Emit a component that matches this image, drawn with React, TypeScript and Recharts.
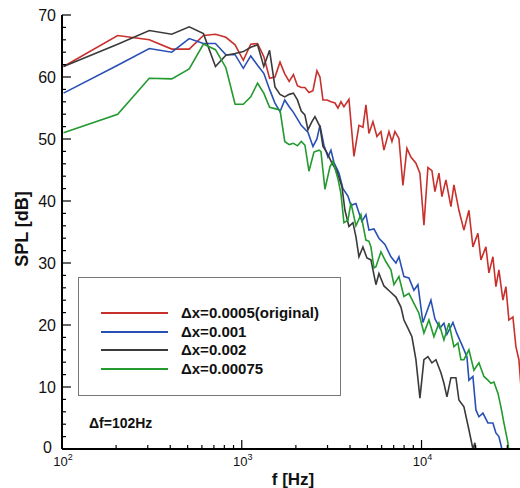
import { LineChart, Line, XAxis, YAxis, Label } from "recharts";

// frequency [Hz], SPL [dB]
const RED_PTS: [number, number][] = [
  [102, 61.7], [204, 66.7], [306, 66.0], [408, 64.5], [510, 64.5], [612, 66.7], [714, 66.9], [816, 66.4],
  [918, 65.2], [1020, 62.7], [1122, 65.3], [1224, 65.4], [1326, 63.3], [1428, 59.8], [1530, 60.0], [1632, 62.4],
  [1734, 60.5], [1836, 59.3], [1938, 60.4], [2040, 58.6], [2142, 58.3], [2244, 58.3], [2365, 57.5], [2489, 57.8],
  [2619, 61.0], [2722, 60.0], [2829, 56.3], [2978, 56.3], [3134, 56.0], [3299, 55.8], [3428, 55.0], [3562, 56.0],
  [3701, 55.2], [3947, 56.4], [4208, 47.2], [4486, 52.2], [4721, 51.9], [4906, 55.5], [5099, 50.9], [5367, 52.8],
  [5649, 50.4], [5945, 51.2], [6178, 48.2], [6587, 51.2], [6845, 49.6], [7113, 51.2], [7487, 50.1], [7880, 42.5],
  [8294, 48.5], [8730, 47.1], [9307, 46.1], [9797, 44.5], [10312, 36.1], [10853, 45.4], [11424, 44.9], [11872, 41.5],
  [12496, 44.5], [12985, 40.7], [13668, 43.4], [14571, 39.1], [15142, 42.6], [16143, 38.5], [17211, 35.3], [18349, 38.5],
  [19313, 32.6], [20591, 34.8], [21397, 30.5], [22812, 32.6], [23705, 28.4], [24951, 31.0], [25928, 26.2], [26943, 28.9],
  [28359, 24.0], [29469, 26.2], [30625, 20.8], [32234, 21.3], [33496, 16.5], [34808, 14.4], [36171, 8.0],
];

const BLUE_PTS: [number, number][] = [
  [102, 57.4], [204, 61.9], [306, 64.6], [408, 64.0], [510, 66.2], [612, 65.4], [714, 65.4], [816, 63.6],
  [918, 63.6], [1020, 61.4], [1122, 63.4], [1224, 61.9], [1326, 60.6], [1428, 58.0], [1530, 55.8], [1632, 54.4],
  [1734, 56.3], [1836, 55.2], [1938, 54.3], [2142, 52.2], [2334, 51.1], [2489, 48.8], [2619, 50.0], [2722, 52.2],
  [2865, 49.0], [3016, 47.1], [3134, 48.2], [3257, 46.2], [3472, 44.5], [3654, 42.0], [3896, 40.8], [4049, 39.3],
  [4317, 39.6], [4486, 38.1], [4661, 36.7], [4906, 37.8], [5099, 35.3], [5436, 35.5], [5795, 34.0], [6257, 33.0],
  [6758, 31.0], [7205, 30.0], [7487, 31.0], [7982, 27.8], [8509, 27.6], [9072, 25.6], [9549, 26.5], [10180, 20.4],
  [11279, 24.0], [11872, 21.0], [12657, 19.5], [13322, 20.3], [13844, 18.5], [14949, 20.4], [15735, 18.6], [16775, 16.8],
  [17884, 14.9], [18349, 11.1], [19313, 11.7], [20070, 6.3], [20856, 5.2], [21952, 5.8], [23404, 4.2], [24951, 4.2],
  [25928, 2.6], [26943, 2.0], [27998, 0.0], [28359, -2.0],
];

const BLACK_PTS: [number, number][] = [
  [102, 61.7], [204, 65.3], [306, 67.5], [408, 66.9], [510, 68.1], [612, 67.0], [714, 61.7], [816, 63.5],
  [918, 63.8], [1020, 64.1], [1122, 64.8], [1224, 65.2], [1326, 61.7], [1428, 64.3], [1530, 58.4], [1632, 57.2],
  [1734, 56.8], [1836, 57.2], [1938, 57.4], [2040, 56.3], [2142, 54.5], [2244, 53.9], [2334, 51.5], [2457, 52.8],
  [2553, 53.6], [2722, 52.0], [2829, 48.8], [2978, 47.8], [3174, 46.1], [3384, 44.8], [3608, 42.3], [3749, 38.5],
  [3947, 35.9], [4154, 36.5], [4317, 34.2], [4486, 31.0], [4721, 32.6], [4969, 30.8], [5231, 30.5], [5577, 26.5],
  [5795, 28.3], [6178, 26.3], [6672, 25.4], [7205, 24.5], [7681, 22.9], [7982, 20.8], [8401, 19.5], [8843, 18.1],
  [9307, 14.4], [9797, 8.2], [10312, 14.4], [10853, 14.9], [11424, 13.9], [12025, 14.4], [12820, 12.3], [13322, 10.6],
  [13844, 8.4], [14571, 11.5], [15534, 11.5], [16143, 7.9], [17211, 6.8], [18349, 3.1], [19313, 0.0], [19814, 1.0],
  [20328, -3.0],
];

const GREEN_PTS: [number, number][] = [
  [102, 51.0], [204, 54.0], [306, 59.8], [408, 59.7], [510, 61.3], [612, 65.3], [714, 64.4], [816, 61.5],
  [918, 55.6], [1020, 55.6], [1122, 56.8], [1224, 59.0], [1326, 57.4], [1428, 55.1], [1530, 54.9], [1632, 54.7],
  [1734, 49.6], [1836, 49.1], [1938, 49.3], [2040, 48.9], [2142, 49.6], [2246, 49.0], [2365, 44.8], [2521, 47.9],
  [2687, 48.2], [2757, 48.0], [2902, 41.9], [3094, 45.5], [3215, 46.4], [3428, 43.6], [3562, 41.2], [3701, 36.5],
  [3896, 36.9], [4049, 39.7], [4317, 36.0], [4602, 37.8], [4906, 33.7], [5099, 33.5], [5231, 32.6], [5436, 29.2],
  [5577, 29.4], [5945, 31.8], [6338, 30.2], [6758, 28.9], [7023, 26.5], [7487, 27.8], [7982, 24.6], [8509, 25.1],
  [9072, 23.5], [9672, 21.9], [10312, 18.7], [10994, 20.8], [11721, 18.1], [12496, 20.3], [13322, 17.6], [14203, 20.3],
  [15142, 16.5], [15937, 17.1], [16562, 14.4], [17211, 14.4], [18349, 16.0], [19562, 12.7], [20856, 13.9], [22235, 11.7],
  [23404, 11.1], [24320, 10.6], [25272, 10.8], [26600, 9.0], [27642, 6.8], [28724, 4.2], [30234, 1.0], [31020, -2.0],
];

const X_TICKS = [
  100, 200, 300, 400, 500, 600, 700, 800, 900,
  1000, 2000, 3000, 4000, 5000, 6000, 7000, 8000, 9000,
  10000, 20000, 30000,
];
const Y_TICKS = [0, 2, 4, 6, 8, 10, 12, 14, 16, 18, 20, 22, 24, 26, 28, 30, 32, 34, 36, 38, 40, 42, 44, 46, 48, 50, 52, 54, 56, 58, 60, 62, 64, 66, 68, 70];

const SERIES = [
  { name: "Δx=0.0005(original)", color: "#c8302c", points: RED_PTS },
  { name: "Δx=0.001", color: "#2850b4", points: BLUE_PTS },
  { name: "Δx=0.002", color: "#3a3a3a", points: BLACK_PTS },
  { name: "Δx=0.00075", color: "#229a2e", points: GREEN_PTS },
];

const FONT = "'Liberation Sans', Arial, Helvetica, sans-serif";

const toRows = (pts: [number, number][]) => pts.map(([f, spl]) => ({ f, spl }));

function FreqTick(props: any) {
  const { x, y, payload } = props;
  const v = payload.value;
  const exp = Math.round(Math.log10(v));
  const major = Math.abs(v - Math.pow(10, exp)) < 1e-6;
  return (
    <g>
      <line x1={x} x2={x} y1={y} y2={y - (major ? 9 : 4)} stroke="#000" strokeWidth={1.2} />
      {major && (
        <text x={x + 1} y={y + 17} textAnchor="middle" fontSize={13} fontFamily={FONT} fill="#111">
          10
          <tspan dy={-6} fontSize={9}>{exp}</tspan>
        </text>
      )}
    </g>
  );
}

function SplTick(props: any) {
  const { x, y, payload } = props;
  const major = payload.value % 10 === 0;
  return (
    <g>
      <line x1={x} x2={x + (major ? 9 : 4)} y1={y} y2={y} stroke="#000" strokeWidth={1.2} />
      {major && (
        <text x={payload.value === 0 ? x - 10 : x - 6} y={y + (payload.value === 0 ? 4 : 6)} textAnchor="end" fontSize={16} fontFamily={FONT} fill="#111">
          {payload.value}
        </text>
      )}
    </g>
  );
}

export default function App() {
  return (
    <div style={{ position: "absolute", left: 0, top: 0, width: 520, height: 488, background: "#fff", fontFamily: FONT }}>
      <LineChart width={520} height={488} margin={{ top: 15, right: 0, bottom: 9, left: 0 }}>
        <XAxis
          dataKey="f"
          type="number"
          scale="log"
          domain={[100, 35300]}
          allowDataOverflow
          ticks={X_TICKS}
          interval={0}
          tickSize={0}
          tickMargin={0}
          tickLine={false}
          tick={<FreqTick />}
          height={30}
          axisLine={{ stroke: "#000", strokeWidth: 2 }}
        >
          <Label
            content={({ viewBox }: any) => (
              <text x={(viewBox?.x ?? 62) + 231} y={485} textAnchor="middle" fontSize={17} fontWeight="bold" fontFamily={FONT} fill="#111">
                f [Hz]
              </text>
            )}
          />
        </XAxis>
        <YAxis
          type="number"
          domain={[0, 70]}
          allowDataOverflow
          ticks={Y_TICKS}
          interval={0}
          tickSize={0}
          tickMargin={0}
          tickLine={false}
          tick={<SplTick />}
          width={62}
          axisLine={{ stroke: "#000", strokeWidth: 2 }}
        >
          <Label
            content={() => (
              <text x={22} y={229} transform="rotate(-90 22 229)" textAnchor="middle" dominantBaseline="central" fontSize={18} fontWeight="bold" fontFamily={FONT} fill="#111">
                SPL [dB]
              </text>
            )}
          />
        </YAxis>
        {SERIES.map((s) => (
          <Line
            key={s.name}
            data={toRows(s.points)}
            dataKey="spl"
            name={s.name}
            type="linear"
            stroke={s.color}
            strokeWidth={1.6}
            dot={false}
            isAnimationActive={false}
          />
        ))}
      </LineChart>

      {/* legend box, drawn over the plot like the original */}
      <div
        style={{
          position: "absolute",
          left: 78,
          top: 277,
          width: 263,
          height: 119,
          border: "1px solid #777",
          boxSizing: "border-box",
          background: "#fff",
          paddingTop: 26,
        }}
      >
        {SERIES.map((s) => (
          <div key={s.name} style={{ display: "flex", alignItems: "center", height: 18.6 }}>
            <div style={{ marginLeft: 22, width: 67, height: 2, background: s.color }} />
            <span style={{ marginLeft: 13, fontSize: 15, fontWeight: "bold", color: "#111", lineHeight: "18px" }}>{s.name}</span>
          </div>
        ))}
      </div>
      <div style={{ position: "absolute", left: 89, top: 415, fontSize: 14, fontWeight: "bold", color: "#111" }}>Δf=102Hz</div>
    </div>
  );
}
